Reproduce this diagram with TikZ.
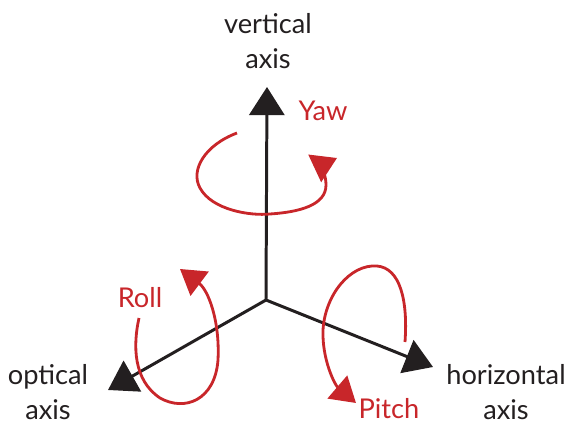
\documentclass[tikz,border=0pt]{standalone}
\usepackage{fontspec}
\setmainfont{Lato}
\usetikzlibrary{arrows.meta}
\definecolor{Rouge}{HTML}{C8262A}
\definecolor{Noir}{HTML}{231F20}

\begin{document}
\begin{tikzpicture}[x=.02cm,y=-.02cm,
    axe/.style={Noir, line width=1.7pt, -{Triangle[length=16pt,width=20pt]}},
    rot/.style={Rouge, line width=1.6pt, -{Triangle[length=14pt,width=17pt]}},
    etiq/.style={font=\fontsize{15.5}{20}\selectfont, align=center, text=Noir},
    etiqR/.style={font=\fontsize{15.5}{20}\selectfont, text=Rouge}]
  \useasboundingbox (0,0) rectangle (566,423);
  \coordinate (O) at (266,300);
        \foreach \nom/\x/\y in {vert/267/87, opt/108/390, horiz/433/367}{
          \coordinate (\nom) at (\x,\y);
          \draw[axe] (O) -- (\nom);
        }
        \node[etiq] (lVert) at (268,41) {vertical\\axis};
        \node[etiq] (lOpt) at (48,392) {optical\\axis};
        \node[etiq] (lHoriz) at (506,392) {horizontal\\axis};
        \node[etiqR] (lYaw) at (323,111) {Yaw};
        \node[etiqR] (lRoll) at (140,298) {Roll};
        \node[etiqR] (lPitch) at (389,409) {Pitch};
        % rotations
        \coordinate (yawA) at (237,133);
        \coordinate (yawB) at (337,158);
        \draw[rot] (yawA) .. controls (205,145) and (190,170) .. (200,188)
          .. controls (212,210) and (250,216) .. (270,214)
          .. controls (300,212) and (326,205) .. (326,185)
          .. controls (326,175) and (322,165) .. (yawB);
        \coordinate (rollA) at (139,318);
        \coordinate (rollB) at (180,269);
        \draw[rot] (rollA) .. controls (133,345) and (133,380) .. (160,398)
          .. controls (185,412) and (215,400) .. (218,360)
          .. controls (220,320) and (208,290) .. (rollB);
        \coordinate (pitchA) at (405,342);
        \coordinate (pitchB) at (356,403);
        \draw[rot] (pitchA) .. controls (408,300) and (400,268) .. (377,266)
          .. controls (350,264) and (325,295) .. (323,330)
          .. controls (322,360) and (335,385) .. (pitchB);
\end{tikzpicture}
\end{document}
